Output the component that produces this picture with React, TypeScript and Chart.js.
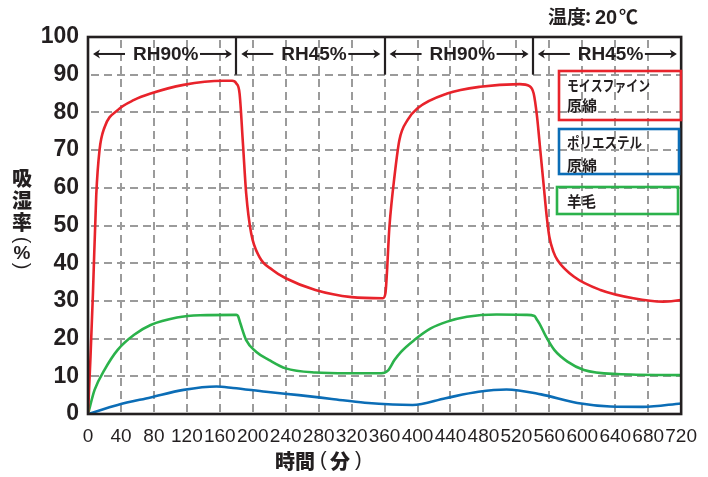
import React, { useEffect, useRef } from 'react';
import { Chart, registerables } from 'chart.js';

Chart.register(...registerables);

// ---- data (time in minutes, moisture absorption in %) ----
const moisfineTimes = [0, 3, 6, 10, 14, 20, 36, 56, 76, 116, 164, 175, 180, 184, 188, 192, 198, 208, 224, 240, 276, 320, 358, 361, 366, 372, 378, 388, 400, 436, 476, 524, 536, 541, 545, 549, 553, 557, 560, 565, 570, 590, 622, 662, 698, 720];
const moisfineValues = [0, 15, 32, 58, 70, 76, 80.6, 83.3, 85, 87.3, 88.4, 88.4, 87.7, 85, 72, 58.5, 48, 41.7, 38.2, 36, 32.9, 31, 30.7, 32, 50, 63, 72.7, 78, 81.1, 85, 86.8, 87.5, 87, 85, 79, 70, 61, 52, 47, 43, 40.8, 36.4, 32.9, 30.7, 29.8, 30.2];

const polyesterTimes = [0, 36, 76, 116, 156, 176, 216, 256, 296, 336, 370, 394, 434, 474, 508, 550, 594, 634, 674, 720];
const polyesterValues = [0, 2.4, 4.4, 6.4, 7.3, 6.9, 5.9, 5, 4, 3, 2.5, 2.4, 4.2, 5.9, 6.5, 5.2, 2.9, 2, 1.9, 2.8];

const woolTimes = [0, 8, 20, 36, 56, 76, 108, 136, 180, 182, 185, 192, 204, 220, 240, 276, 316, 356, 364, 372, 380, 396, 416, 436, 460, 496, 532, 542, 545, 548, 556, 566, 582, 602, 642, 720];
const woolValues = [0, 6.4, 11.7, 17, 21, 23.6, 25.6, 26.2, 26.3, 26, 24, 19.6, 16.5, 14.3, 12.1, 11, 10.8, 10.8, 11.5, 14.3, 16.5, 19.6, 22.7, 24.5, 25.8, 26.4, 26.3, 26, 25, 24, 20.5, 17, 13.9, 11.7, 10.6, 10.3];

const seriesNames = ['モイスファイン原綿', 'ポリエステル原綿', '羊毛'];
const legendLines = [['モイスファイン', '原綿'], ['ポリエステル', '原綿'], ['羊毛']];

const xMin = 0;
const xMax = 720;
const xStep = 40;
const yMin = 0;
const yMax = 100;
const yStep = 10;

const phaseEdges = [0, 180, 360, 540, 720];
const phaseLabels = ['RH90%', 'RH45%', 'RH90%', 'RH45%'];

const xTitleParts = ['時間', '(', '分', ')'];
const yTitleChars = ['吸', '湿', '率', '(', '%', ')'];
const tempLabelParts = ['温度', ':', '20', '℃'];

const RED = '#e8232b';
const BLUE = '#0b6db6';
const GREEN = '#2bb24b';
const INK = '#231f20';
const GRID = '#9b9b9b';

const LATIN = '"Liberation Sans", Arial, sans-serif';
const CJK = '"Noto Sans CJK JP", "Noto Sans", sans-serif';

function toPoints(ts: number[], vs: number[]) {
  return ts.map((t, i) => ({ x: t, y: vs[i] }));
}

function arrowHead(ctx: CanvasRenderingContext2D, x: number, y: number, dir: number) {
  ctx.beginPath();
  ctx.moveTo(x, y);
  ctx.lineTo(x - dir * 7, y - 4.5);
  ctx.lineTo(x - dir * 5, y);
  ctx.lineTo(x - dir * 7, y + 4.5);
  ctx.closePath();
  ctx.fill();
}

const DASH = 8;
const GAP = 5;
const GRID_W = 2;

const dashedGrid = {
  id: 'dashedGrid',
  beforeDatasetsDraw(chart: any) {
    const ctx: CanvasRenderingContext2D = chart.ctx;
    const { left, right, top, bottom } = chart.chartArea;
    const xs = chart.scales.x;
    const ys = chart.scales.y;
    ctx.save();
    ctx.fillStyle = GRID;
    xs.ticks.forEach((t: any) => {
      const px = Math.round(xs.getPixelForValue(t.value));
      for (let y = top + 3; y < bottom; y += DASH + GAP) {
        ctx.fillRect(px - GRID_W / 2, y, GRID_W, Math.min(DASH, bottom - y));
      }
    });
    ys.ticks.forEach((t: any) => {
      const py = Math.round(ys.getPixelForValue(t.value));
      for (let x = left + 3; x < right; x += DASH + GAP) {
        ctx.fillRect(x, py - GRID_W / 2, Math.min(DASH, right - x), GRID_W);
      }
    });
    ctx.restore();
  },
};

const annotations = {
  id: 'annotations',
  afterDraw(chart: any) {
    const ctx: CanvasRenderingContext2D = chart.ctx;
    const { left, right, top, bottom } = chart.chartArea;
    const xs = chart.scales.x;
    const ys = chart.scales.y;
    ctx.save();

    // plot frame
    ctx.strokeStyle = INK;
    ctx.lineWidth = 2.6;
    ctx.strokeRect(left, top, right - left, bottom - top);

    // phase separators
    const y90 = ys.getPixelForValue(90);
    ctx.lineWidth = 2.2;
    for (let i = 1; i < phaseEdges.length - 1; i++) {
      const px = Math.round(xs.getPixelForValue(phaseEdges[i]));
      ctx.beginPath();
      ctx.moveTo(px, top);
      ctx.lineTo(px, y90);
      ctx.stroke();
    }

    // phase labels with arrows
    const ym = ys.getPixelForValue(95.5);
    ctx.fillStyle = INK;
    ctx.font = `bold 19px ${LATIN}`;
    ctx.textBaseline = 'middle';
    ctx.textAlign = 'left';
    ctx.lineWidth = 2;
    for (let i = 0; i < phaseLabels.length; i++) {
      const L = xs.getPixelForValue(phaseEdges[i]);
      ctx.beginPath();
      ctx.moveTo(L + 8, ym);
      ctx.lineTo(L + 37, ym);
      ctx.stroke();
      arrowHead(ctx, L + 5, ym, -1);
      ctx.fillText(phaseLabels[i], L + 45, ym + 1, 70);
      ctx.beginPath();
      ctx.moveTo(L + 112, ym);
      ctx.lineTo(L + 141, ym);
      ctx.stroke();
      arrowHead(ctx, L + 144, ym, 1);
    }

    // temperature label
    ctx.font = `bold 19px ${CJK}`;
    ctx.fillText(tempLabelParts[0], 548, 17);
    ctx.fillText(tempLabelParts[1], 585, 16);
    ctx.font = `bold 20px ${LATIN}`;
    ctx.fillText(tempLabelParts[2], 595, 18);
    ctx.font = `bold 19px ${CJK}`;
    ctx.fillText(tempLabelParts[3], 619, 17);

    // y-axis title (vertical)
    ctx.textAlign = 'center';
    const yPos = [178, 200, 222, 240, 253, 266];
    yTitleChars.forEach((c, i) => {
      if (c === '(' || c === ')') {
        ctx.save();
        ctx.translate(22, yPos[i]);
        ctx.rotate(Math.PI / 2);
        ctx.font = `20px ${LATIN}`;
        ctx.fillText(c, 0, 0);
        ctx.restore();
      } else if (c === '%') {
        ctx.font = `bold 19px ${LATIN}`;
        ctx.fillText(c, 22, yPos[i] + 1);
      } else {
        ctx.font = `900 20px ${CJK}`;
        ctx.fillText(c, 22, yPos[i]);
      }
    });

    // x-axis title
    ctx.textAlign = 'left';
    ctx.font = `900 20px ${CJK}`;
    ctx.fillText(xTitleParts[0], 275, 461);
    ctx.fillText(xTitleParts[2], 330, 461);
    ctx.font = `20px ${LATIN}`;
    ctx.fillText(xTitleParts[1], 320, 460);
    ctx.fillText(xTitleParts[3], 355, 460);

    // legend boxes
    const boxes = [
      { x: 559, y: 71, w: 122, h: 49, c: RED },
      { x: 559, y: 129, w: 120, h: 45, c: BLUE },
      { x: 557, y: 187, w: 121, h: 27, c: GREEN },
    ];
    const textRows = [[85, 105], [142, 165], [201]];
    const textWidths = [[83, 30], [75, 30], [29]];
    ctx.lineWidth = 2.6;
    ctx.font = `bold 15px ${CJK}`;
    ctx.fillStyle = INK;
    boxes.forEach((b, i) => {
      ctx.strokeStyle = b.c;
      ctx.strokeRect(b.x, b.y, b.w, b.h);
      legendLines[i].forEach((t, j) => {
        ctx.fillText(t, 567, textRows[i][j], textWidths[i][j]);
      });
    });

    ctx.restore();
  },
};

export default function App() {
  const ref = useRef<HTMLCanvasElement | null>(null);

  useEffect(() => {
    const canvas = ref.current;
    if (!canvas) return;
    const lineDs = (label: string, data: any[], color: string) => ({
      label,
      data,
      borderColor: color,
      backgroundColor: color,
      borderWidth: 2.6,
      pointRadius: 0,
      pointHoverRadius: 0,
      fill: false,
      cubicInterpolationMode: 'monotone' as const,
    });
    const chart = new Chart(canvas, {
      type: 'line',
      data: {
        datasets: [
          lineDs(seriesNames[0], toPoints(moisfineTimes, moisfineValues), RED),
          lineDs(seriesNames[1], toPoints(polyesterTimes, polyesterValues), BLUE),
          lineDs(seriesNames[2], toPoints(woolTimes, woolValues), GREEN),
        ],
      },
      options: {
        responsive: false,
        animation: false,
        events: [],
        layout: { padding: { top: 37, right: 20, left: 0, bottom: 0 } },
        plugins: {
          legend: { display: false },
          tooltip: { enabled: false },
          title: { display: false },
        },
        scales: {
          x: {
            type: 'linear',
            min: xMin,
            max: xMax,
            afterFit: (s: any) => {
              s.height = 63;
            },
            ticks: {
              stepSize: xStep,
              autoSkip: false,
              maxRotation: 0,
              minRotation: 0,
              padding: 11,
              color: INK,
              font: { family: LATIN, size: 19 },
            },
            grid: { display: false, drawTicks: false },
            border: { display: false },
          },
          y: {
            type: 'linear',
            min: yMin,
            max: yMax,
            afterFit: (s: any) => {
              s.width = 88;
            },
            ticks: {
              stepSize: yStep,
              padding: 9,
              color: INK,
              font: { family: LATIN, size: 23, weight: 'bold' },
            },
            grid: { display: false, drawTicks: false },
            border: { display: false },
          },
        },
      },
      plugins: [dashedGrid, annotations],
    } as any);
    return () => chart.destroy();
  }, []);

  return (
    <div style={{ position: 'fixed', left: 0, top: 0, width: 708, height: 477, background: '#fff' }}>
      <canvas ref={ref} width={708} height={477} style={{ width: 708, height: 477, display: 'block' }} />
    </div>
  );
}
